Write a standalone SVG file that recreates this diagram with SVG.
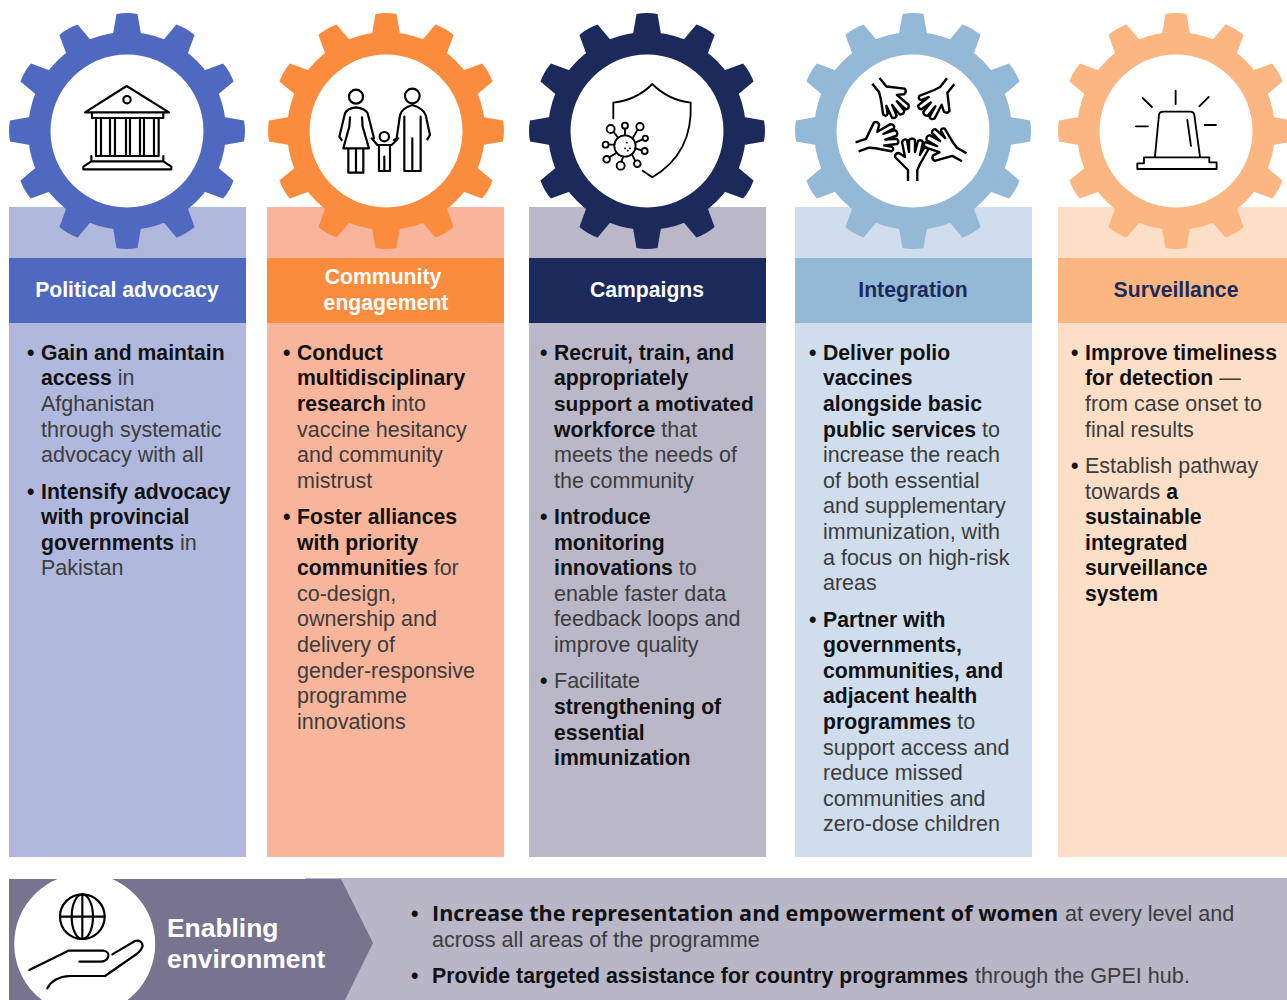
<svg xmlns="http://www.w3.org/2000/svg" width="1287" height="1000" viewBox="0 0 1287 1000">
<style>
text{font-family:"Liberation Sans",Arial,sans-serif;font-size:21.5px;fill:#3c3c3c}
.b{font-weight:700;font-size:21.2px;fill:#111}
.h{font-weight:700;font-size:21.2px;fill:#fff;text-anchor:middle}
.i{fill:none;stroke:#000;stroke-width:6.500;stroke-linecap:round;stroke-linejoin:round}
.o{font-family:"Open Sans",sans-serif;font-size:21.6px;font-weight:700;fill:#111}
.p{font-weight:700;font-size:21.3px;fill:#111}
.e{font-size:26.4px;font-weight:700;fill:#fff}
.l{font-size:21.6px}
</style>
<defs>
<path id="t" d="M-14-97L-10.500-117Q0-119 10.500-117L14-97Z"/>
<g id="t3"><use href="#t"/><use href="#t" transform="rotate(30)"/><use href="#t" transform="rotate(60)"/></g>
<g id="gear">
<circle r="99"/>
<use href="#t3"/><use href="#t3" transform="rotate(90)"/><use href="#t3" transform="rotate(180)"/><use href="#t3" transform="rotate(270)"/>
<circle r="76.5" fill="#fff"/>
</g>
<path id="hand" d="M-5 51V40L-18 27Q-18 23-14 23L-8 27L-11 12Q-9 8-6 10L-4 22L-4 10Q-1 7 2 10L2 22L5 11Q8 9 10 12L7 25L11 18Q14 16 15 20L7 34L4.300 40V51" fill="none" stroke="#000" stroke-width="2.400" stroke-linejoin="round"/>
</defs>

<g id="political-advocacy">
<rect x="9" y="207" width="237" height="650" fill="#b1b8dd"/>
<use href="#gear" x="127" y="131" fill="#4f69c1"/>
<rect x="9" y="258" width="237" height="65" fill="#4f69c1"/>
<text class="h" x="127" y="297">Political advocacy</text>
<g transform="scale(.3333)" class="i">
<path d="M255 337L380 258L507 337Z"/><circle cx="381" cy="299" r="11"/>
<path d="M276 339V354H490V339M288 354V468H476V354M303 354V468M330 354V468M345 354V468M378 354V468M390 354V468M420 354V468M432 354V468M462 354V468M274 468V484H490V468M274 484L250 500V508H514V500L490 484"/>
</g>
<text x="41" y="359.800"><tspan class="b">Gain and maintain</tspan><tspan class="b" x="41" dy="25.6">access</tspan> in<tspan x="41" dy="25.6">Afghanistan</tspan><tspan x="41" dy="25.6">through systematic</tspan><tspan x="41" dy="25.6">advocacy with all</tspan></text>
<text class="b" x="27" y="360">•</text>
<text x="41" y="498.600"><tspan class="b">Intensify advocacy</tspan><tspan class="b" x="41" dy="25.6">with provincial</tspan><tspan class="b" x="41" dy="25.6">governments</tspan> in<tspan x="41" dy="25.6">Pakistan</tspan></text>
<text class="b" x="27" y="499">•</text>
</g>

<g id="community-engagement">
<rect x="267" y="207" width="237" height="650" fill="#f8b59b"/>
<use href="#gear" x="386" y="131" fill="#fb8c3e"/>
<rect x="267" y="258" width="237" height="65" fill="#fb8c3e"/>
<text class="h" x="383" y="284">Community</text><text class="h" x="386" y="310">engagement</text>
<g transform="translate(300 60) scale(.3333)" class="i">
<circle cx="168" cy="110" r="21"/><path d="M125 240L118 230L135 160Q142 145 168 142Q195 145 203 160L222 235M150 172L148 200L130 265H207L188 200L186 172M145 265V338H190V265M168 265V338"/>
<circle cx="253" cy="230" r="14"/><path d="M215 235L232 255H275L295 235M237 255V333H270V255M253 290V333"/>
<circle cx="337" cy="108" r="22"/><path d="M282 240L290 235L300 165Q305 145 337 135Q370 145 377 165L390 225L382 238M313 170V333H362V170M337 235V333"/>
</g>
<text x="297" y="359.800"><tspan class="b">Conduct</tspan><tspan class="b" x="297" dy="25.6">multidisciplinary</tspan><tspan class="b" x="297" dy="25.6">research</tspan> into<tspan x="297" dy="25.6">vaccine hesitancy</tspan><tspan x="297" dy="25.6">and community</tspan><tspan x="297" dy="25.6">mistrust</tspan></text>
<text class="b" x="283" y="360">•</text>
<text x="297" y="524"><tspan class="b">Foster alliances</tspan><tspan class="b" x="297" dy="25.6">with priority</tspan><tspan class="b" x="297" dy="25.6">communities</tspan> for<tspan x="297" dy="25.6">co-design,</tspan><tspan x="297" dy="25.6">ownership and</tspan><tspan x="297" dy="25.6">delivery of</tspan><tspan x="297" dy="25.6">gender-responsive</tspan><tspan x="297" dy="25.6">programme</tspan><tspan x="297" dy="25.6">innovations</tspan></text>
<text class="b" x="283" y="524">•</text>
</g>

<g id="campaigns">
<rect x="529" y="207" width="237" height="650" fill="#b9b7c8"/>
<use href="#gear" x="647" y="131" fill="#1b2a5b"/>
<rect x="529" y="258" width="237" height="65" fill="#1b2a5b"/>
<text class="h" x="647" y="297">Campaigns</text>
<g transform="translate(300 60) scale(.3333)" class="i" style="stroke-width:5.500">
<path d="M940 175V128Q1010 120 1057 72Q1105 120 1172 128Q1180 280 1057 352L1028 332"/>
<circle cx="975" cy="258" r="32"/>
<circle cx="932" cy="207" r="12"/><circle cx="975" cy="197" r="9"/><circle cx="1020" cy="200" r="11"/><circle cx="1036" cy="235" r="8"/><circle cx="1034" cy="273" r="9"/><circle cx="1012" cy="311" r="10"/><circle cx="962" cy="317" r="12"/><circle cx="920" cy="298" r="10"/><circle cx="917" cy="254" r="9"/>
<path d="M941 216L954 233M975 206V226M1013 209L998 235M1028 238L1006 248M1025 271L1006 265M1006 303L996 283M964 305L970 290M928 292L950 278M926 254H943"/>
<path d="M980 248h.5M990 265h.5M975 265h.5M983 272h.5"/>
</g>
<text x="554" y="359.800"><tspan class="b">Recruit, train, and</tspan><tspan class="b" x="554" dy="25.6">appropriately</tspan><tspan class="b" x="554" dy="25.6" style="font-size:20.9px">support a motivated</tspan><tspan class="b" x="554" dy="25.6">workforce</tspan> that<tspan x="554" dy="25.6">meets the needs of</tspan><tspan x="554" dy="25.6">the community</tspan></text>
<text class="b" x="540" y="360">•</text>
<text x="554" y="524"><tspan class="b">Introduce</tspan><tspan class="b" x="554" dy="25.6">monitoring</tspan><tspan class="b" x="554" dy="25.6">innovations</tspan> to<tspan x="554" dy="25.6">enable faster data</tspan><tspan x="554" dy="25.6">feedback loops and</tspan><tspan x="554" dy="25.6">improve quality</tspan></text>
<text class="b" x="540" y="524">•</text>
<text x="554" y="688.400">Facilitate<tspan class="b" x="554" dy="25.6">strengthening of</tspan><tspan class="b" x="554" dy="25.6">essential</tspan><tspan class="b" x="554" dy="25.6">immunization</tspan></text>
<text class="b" x="540" y="688">•</text>
</g>

<g id="integration">
<rect x="795" y="207" width="237" height="650" fill="#cfddec"/>
<use href="#gear" x="913" y="131" fill="#93b9d7"/>
<rect x="795" y="258" width="237" height="65" fill="#93b9d7"/>
<text class="h" x="913" y="297" style="fill:#1b2a5b">Integration</text>
<g transform="translate(913 128)">
<use href="#hand" transform="translate(0 2)"/><use href="#hand" transform="rotate(71) translate(0 8)"/><use href="#hand" transform="rotate(141.500) translate(0 9)"/><use href="#hand" transform="rotate(218.500) translate(0 9)"/><use href="#hand" transform="rotate(299.400) translate(0 8)"/>
</g>
<text x="823" y="359.800"><tspan class="b">Deliver polio</tspan><tspan class="b" x="823" dy="25.6">vaccines</tspan><tspan class="b" x="823" dy="25.6">alongside basic</tspan><tspan class="b" x="823" dy="25.6">public services</tspan> to<tspan x="823" dy="25.6">increase the reach</tspan><tspan x="823" dy="25.6">of both essential</tspan><tspan x="823" dy="25.6">and supplementary</tspan><tspan x="823" dy="25.6">immunization, with</tspan><tspan x="823" dy="25.6">a focus on high-risk</tspan><tspan x="823" dy="25.6">areas</tspan></text>
<text class="b" x="809" y="360">•</text>
<text x="823" y="626.600"><tspan class="b">Partner with</tspan><tspan class="b" x="823" dy="25.6">governments,</tspan><tspan class="b" x="823" dy="25.6">communities, and</tspan><tspan class="b" x="823" dy="25.6">adjacent health</tspan><tspan class="b" x="823" dy="25.6">programmes</tspan> to<tspan x="823" dy="25.6">support access and</tspan><tspan x="823" dy="25.6">reduce missed</tspan><tspan x="823" dy="25.6">communities and</tspan><tspan x="823" dy="25.6">zero-dose children</tspan></text>
<text class="b" x="809" y="627">•</text>
</g>

<g id="surveillance">
<rect x="1058" y="207" width="229" height="650" fill="#fddfc8"/>
<use href="#gear" x="1176" y="131" fill="#fbb682"/>
<rect x="1058" y="258" width="229" height="65" fill="#fbb682"/>
<text class="h" x="1176" y="297" style="fill:#1b2a5b">Surveillance</text>
<g transform="translate(830 60) scale(.3333)" class="i" style="stroke-width:5.500">
<path d="M975 290L987 165Q988 155 1000 155H1080Q1092 155 1093 165L1110 290M942 292H1138V307H1160V327H922V310H942ZM1072 180L1083 258M1037 92V132M938 114L966 141M1136 111L1108 139M918 199H954M1124 195H1158"/>
</g>
<text x="1085" y="359.800"><tspan class="b">Improve timeliness</tspan><tspan class="b" x="1085" dy="25.6">for detection</tspan> —<tspan x="1085" dy="25.6">from case onset to</tspan><tspan x="1085" dy="25.6">final results</tspan></text>
<text class="b" x="1071" y="360">•</text>
<text x="1085" y="473">Establish pathway<tspan x="1085" dy="25.6">towards </tspan><tspan class="b">a</tspan><tspan class="b" x="1085" dy="25.6">sustainable</tspan><tspan class="b" x="1085" dy="25.6">integrated</tspan><tspan class="b" x="1085" dy="25.6">surveillance</tspan><tspan class="b" x="1085" dy="25.6">system</tspan></text>
<text class="b" x="1071" y="473">•</text>
</g>

<g id="enabling-environment">
<rect x="305" y="878" width="982" height="122" fill="#b8b6c7"/>
<path d="M9 879H341L373 943L345 1000H9Z" fill="#78738f"/>
<clipPath id="c"><rect x="9" y="879" width="400" height="121"/></clipPath>
<circle cx="84.700" cy="944" r="70.500" fill="#fff" clip-path="url(#c)"/>
<g transform="translate(0 860) scale(.3333)" class="i">
<circle cx="247" cy="170" r="67"/><ellipse cx="247" cy="170" rx="32" ry="67"/><path d="M247 103V237M180 170H314"/>
<path d="M88 330L205 272H310Q328 275 325 290Q320 305 300 305H238M337 283L405 243Q425 238 428 258Q425 270 410 282L315 348H210Q160 350 142 385"/>
</g>
<text class="e" x="167" y="937">Enabling</text><text class="e" x="167" y="968">environment</text>
<text class="b" x="411" y="921">•</text>
<text class="o" x="432" y="921">Increase the representation and empowerment of women</text>
<text class="l" x="1065" y="921">at every level and</text>
<text class="l" x="432" y="947">across all areas of the programme</text>
<text class="b" x="411" y="983">•</text>
<text class="p" x="432" y="983">Provide targeted assistance for country programmes</text>
<text class="l" x="975" y="983">through the GPEI hub.</text>
</g>
</svg>
